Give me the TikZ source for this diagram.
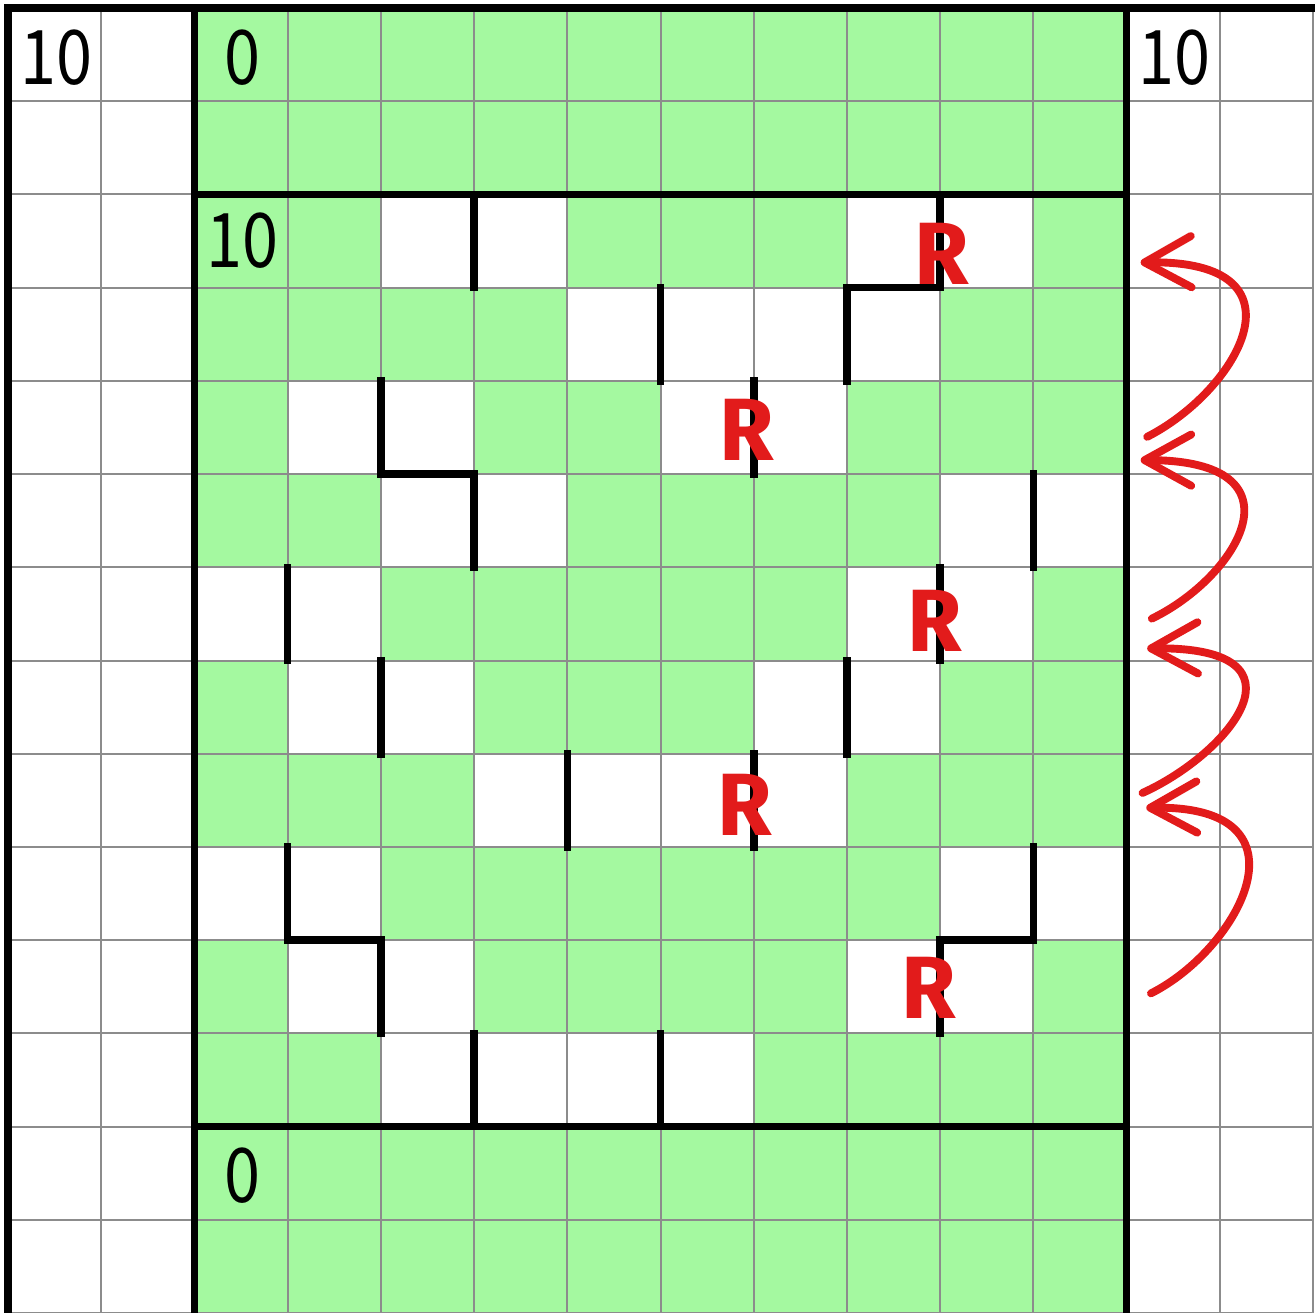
\documentclass[tikz,border=0pt]{standalone}
\usepackage{fontspec}
\usetikzlibrary{arrows.meta}
\newfontfamily\gothic{Noto Sans CJK JP}
\newfontfamily\penfont{Fira Sans}
\definecolor{fieldgreen}{RGB}{164,249,160}
\definecolor{penred}{RGB}{226,27,27}
\definecolor{gridgray}{RGB}{140,140,140}

\begin{document}
\begin{tikzpicture}[x=1cm,y=-1cm,
  frameline/.style={line width=2.3pt},
  wall/.style={line width=2.3pt,line cap=rect},
  num/.style={font=\gothic\fontsize{23}{23}\selectfont,xscale=0.86,inner sep=0pt},
  rmark/.style={text=penred,font=\penfont\bfseries\fontsize{27}{27}\selectfont,inner sep=0pt},
  hop/.style={penred,line width=2.4pt,line cap=round,-{Straight Barb[length=5mm,width=5.5mm,round]}}]
\useasboundingbox (-0.086,-0.086) rectangle (14.02,13.99);
\fill[white] (-0.086,-0.086) rectangle (14.02,13.99);

% field
\fill[fieldgreen] (2,0) rectangle (12,14);
\fill[white] (4,2) rectangle (6,3) (9,2) rectangle (11,3);
\fill[white] (6,3) rectangle (10,4);
\fill[white] (3,4) rectangle (5,5) (7,4) rectangle (9,5);
\fill[white] (4,5) rectangle (6,6) (10,5) rectangle (12,6);
\fill[white] (2,6) rectangle (4,7) (9,6) rectangle (11,7);
\fill[white] (3,7) rectangle (5,8) (8,7) rectangle (10,8);
\fill[white] (5,8) rectangle (9,9);
\fill[white] (2,9) rectangle (4,10) (10,9) rectangle (12,10);
\fill[white] (3,10) rectangle (5,11) (9,10) rectangle (11,11);
\fill[white] (4,11) rectangle (8,12);

\draw[gridgray,line width=0.6pt] (0,0) grid (14,14);

% frame
\draw[frameline] (0,14.2) -- (0,0) -- (14.2,0);
\draw[frameline] (2,0) -- (2,14.2);
\draw[frameline] (12,0) -- (12,14.2);
\draw[frameline] (2,2) -- (12,2);
\draw[frameline] (2,12) -- (12,12);

% walls
\draw[wall] (5,2) -- (5,3);
\draw[wall] (10,2) -- (10,3) -- (9,3) -- (9,4);
\draw[wall] (7,3) -- (7,4);
\draw[wall] (8,4) -- (8,5);
\draw[wall] (4,4) -- (4,5) -- (5,5) -- (5,6);
\draw[wall] (11,5) -- (11,6);
\draw[wall] (3,6) -- (3,7);
\draw[wall] (10,6) -- (10,7);
\draw[wall] (4,7) -- (4,8);
\draw[wall] (9,7) -- (9,8);
\draw[wall] (6,8) -- (6,9);
\draw[wall] (8,8) -- (8,9);
\draw[wall] (3,9) -- (3,10) -- (4,10) -- (4,11);
\draw[wall] (11,9) -- (11,10) -- (10,10) -- (10,11);
\draw[wall] (5,11) -- (5,12);
\draw[wall] (7,11) -- (7,12);

% numbers
\node[num] (leftten) at (0.52,0.53) {10};
\node[num] (topzero) at (2.51,0.53) {0};
\node[num] (rightten) at (12.51,0.53) {10};
\node[num] (innerten) at (2.52,2.5) {10};
\node[num] (bottomzero) at (2.51,12.52) {0};

% R marks
\node[rmark] (ra) at (10.02,2.64) {R};
\node[rmark] (rb) at (7.92,4.53) {R};
\node[rmark] (rc) at (9.94,6.57) {R};
\node[rmark] (rd) at (7.9,8.55) {R};
\node[rmark] (re) at (9.88,10.51) {R};

% hops
\coordinate (s1) at (12.26,10.57);
\coordinate (t1) at (12.21,8.58);
\coordinate (s2) at (12.17,8.42);
\coordinate (t2) at (12.22,6.87);
\coordinate (s3) at (12.27,6.55);
\coordinate (t3) at (12.15,4.85);
\coordinate (s4) at (12.22,4.60);
\coordinate (t4) at (12.15,2.73);
\draw[hop] (s1) .. controls (13.2,10.1) and (14.05,8.55) .. (t1);
\draw[hop] (s2) .. controls (13.1,8.0) and (14.05,6.85) .. (t2);
\draw[hop] (s3) .. controls (13.2,6.1) and (13.95,4.85) .. (t3);
\draw[hop] (s4) .. controls (13.2,4.1) and (14.0,2.7) .. (t4);
\end{tikzpicture}
\end{document}
